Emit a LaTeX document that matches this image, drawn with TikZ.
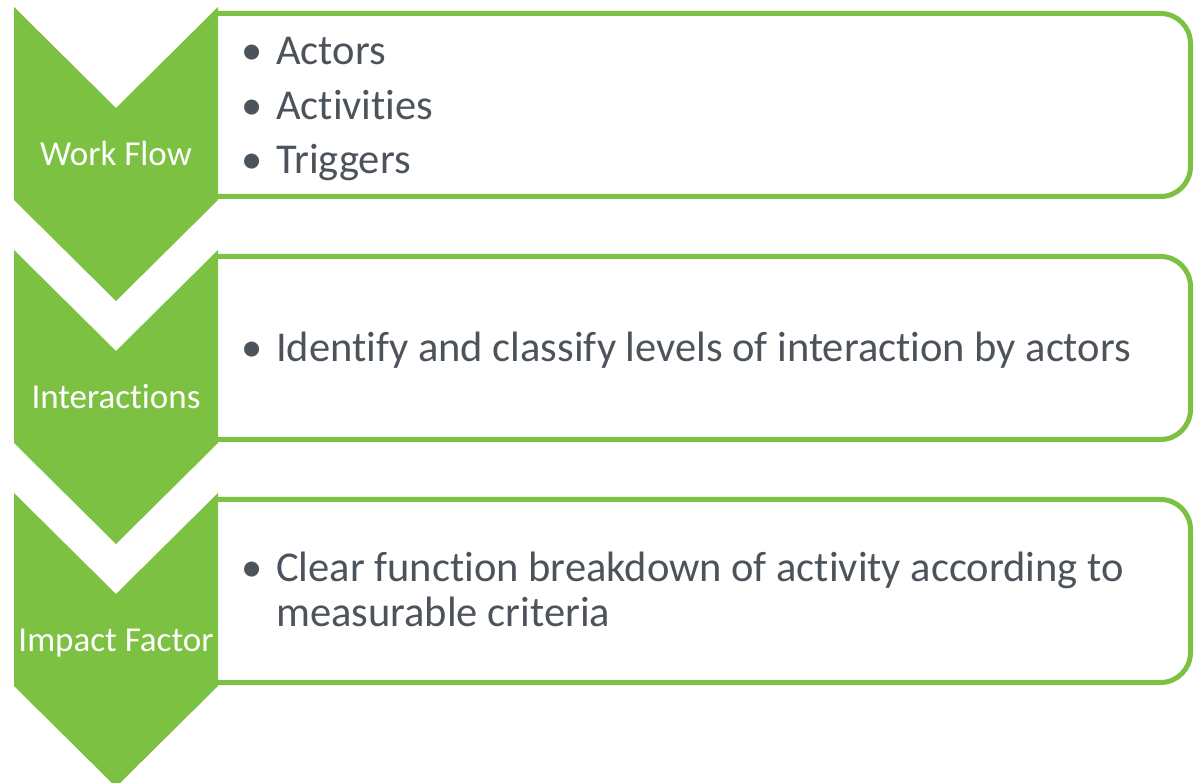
\documentclass[tikz,border=0pt]{standalone}
\usepackage{fontspec}
\setmainfont{Carlito}[RawFeature={-liga;-clig;-dlig;-calt}]
\definecolor{chevgreen}{RGB}{124,193,66}
\definecolor{itemgray}{RGB}{77,83,91}
\newcommand{\bul}{\makebox[35pt][l]{\textbullet}}

\begin{document}
\begin{tikzpicture}[x=1pt, y=-1pt,
  chevron/.style={fill=chevgreen, draw=none},
  listbox/.style={draw=chevgreen, line width=5pt, rounded corners=30pt},
  steplabel/.style={anchor=base, text=white, font=\fontsize{35}{40}\selectfont, inner sep=0pt},
  item/.style={anchor=base west, text=itemgray, font=\fontsize{42.5}{45}\selectfont, inner sep=0pt}]

\useasboundingbox (0,0) rectangle (1195,783);

% boxes first, the chevrons cover their left edge
\draw[listbox] (218,13.5) -- (1190.5,13.5) -- (1190.5,196.5) -- (218,196.5);
\draw[listbox] (218,256.5) -- (1190.5,256.5) -- (1190.5,439.5) -- (218,439.5);
\draw[listbox] (218,499.5) -- (1190.5,499.5) -- (1190.5,682.5) -- (218,682.5);

\fill[chevron] (14,7) -- (116,108) -- (218,7) -- (218,200) -- (116,301) -- (14,200) -- cycle;
\fill[chevron] (14,250) -- (116,351) -- (218,250) -- (218,443) -- (116,544) -- (14,443) -- cycle;
\fill[chevron] (14,493) -- (116,594) -- (218,493) -- (218,686) -- (116,787) -- (14,686) -- cycle;

\node[steplabel] (workflow) at (116,166) {Work Flow};
\node[steplabel] (interactions) at (116,409) {Interactions};
\node[steplabel] (impact) at (116,651) {Impact Factor};

\node[item] (actors) at (241,65) {\bul Actors};
\node[item] (activities) at (241,120) {\bul Activities};
\node[item] (triggers) at (241,174) {\bul Triggers};

\node[item] (identify) at (241,362) {\bul Identify and classify levels of interaction by actors};

\node[item] (clear) at (241,581) {\bul Clear function breakdown of activity according to};
\node[item] (measurable) at (276,626) {measurable criteria};

\end{tikzpicture}
\end{document}
